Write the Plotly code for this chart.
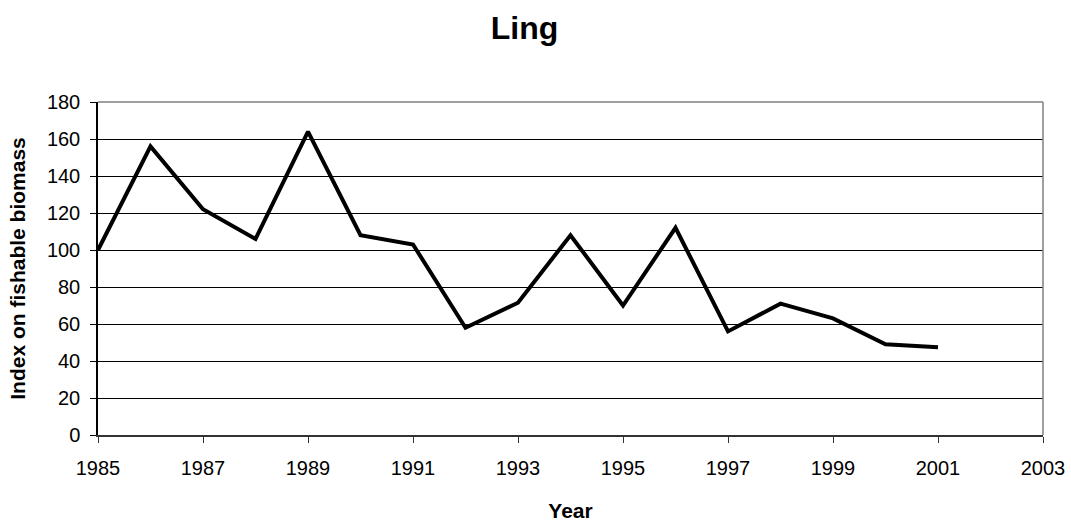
import plotly.graph_objects as go

years = [1985, 1986, 1987, 1988, 1989, 1990, 1991, 1992, 1993,
         1994, 1995, 1996, 1997, 1998, 1999, 2000, 2001]
index_values = [100, 156, 122, 106, 164, 108, 103, 58, 71.5,
                108, 70, 112, 56, 71, 63, 49, 47.5]
x_ticks = [1985, 1987, 1989, 1991, 1993, 1995, 1997, 1999, 2001, 2003]
y_ticks = [0, 20, 40, 60, 80, 100, 120, 140, 160, 180]

FONT = "Liberation Sans, Arial, sans-serif"

fig = go.Figure()
fig.add_trace(go.Scatter(
    x=years, y=index_values, mode="lines",
    line=dict(color="black", width=4),
    showlegend=False, hoverinfo="x+y",
))

# gray frame top/right
fig.add_shape(type="line", xref="paper", yref="paper", x0=0, x1=1, y0=1, y1=1,
              line=dict(color="#808080", width=1.5), layer="above")
fig.add_shape(type="line", xref="paper", yref="paper", x0=1, x1=1, y0=0, y1=1,
              line=dict(color="#808080", width=1.5), layer="above")

fig.update_layout(
    width=1071, height=526,
    margin=dict(l=98, r=28, t=102, b=91),
    paper_bgcolor="white", plot_bgcolor="white",
    font=dict(family=FONT, color="black", size=20),
    title=dict(text="<b>Ling</b>", x=524.5 / 1071, xref="container", xanchor="center",
               y=1 - 28 / 526, yref="container", yanchor="middle",
               font=dict(size=32, family=FONT, color="black")),
)
fig.update_xaxes(
    range=[1985, 2003], tickvals=x_ticks, ticktext=[str(v) for v in x_ticks],
    showgrid=False, zeroline=False, automargin=False,
    showline=True, linecolor="#333333", linewidth=1.5,
    ticks="outside", ticklen=6, tickcolor="#333333", tickwidth=1,
    ticklabelstandoff=8,
    tickfont=dict(size=20, family=FONT, color="black"),
    title=dict(text="<b>Year</b>", font=dict(size=21, family=FONT, color="black"), standoff=26),
    fixedrange=True,
)
fig.update_yaxes(
    range=[0, 180], tickvals=y_ticks,
    showgrid=True, gridcolor="black", gridwidth=1,
    zeroline=False, automargin=False,
    showline=True, linecolor="black", linewidth=1.5,
    ticks="outside", ticklen=6, tickcolor="black", tickwidth=1,
    ticklabelstandoff=6,
    tickfont=dict(size=20, family=FONT, color="black"),
    title=dict(text="<b>Index on fishable biomass</b>", font=dict(size=21, family=FONT, color="black"), standoff=16),
    fixedrange=True,
)

fig.write_html(
    "out.html",
    config={"displayModeBar": False},
    post_script="document.body.style.margin='0';document.body.style.overflow='hidden';",
)
